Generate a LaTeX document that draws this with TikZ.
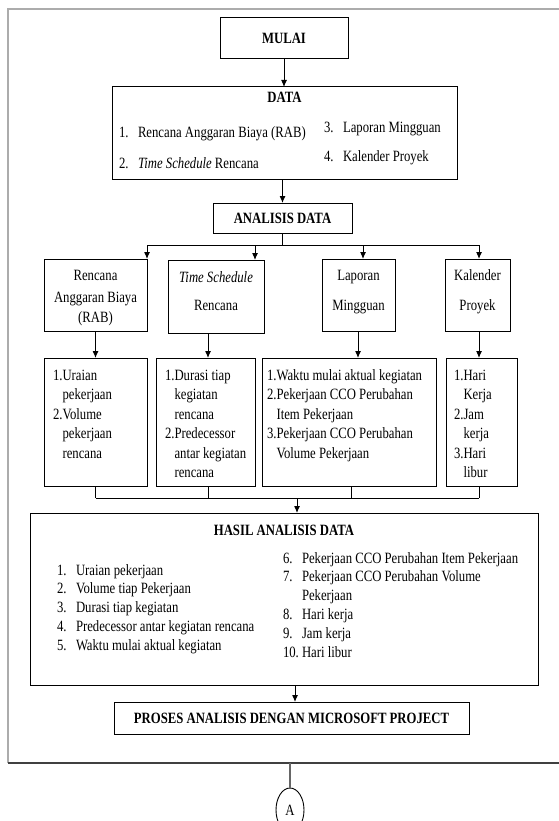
\documentclass[tikz,border=0pt]{standalone}
\usepackage{fontspec}
\setmainfont{Liberation Serif}[FakeStretch=0.81]
\usetikzlibrary{arrows.meta,shapes.geometric}
\tikzset{
  box/.style={draw=black, line width=1pt, anchor=north west, inner sep=0pt, outer sep=0pt},
  txt/.style={inner sep=0pt, outer sep=0pt, font=\fontsize{15.7}{19}\selectfont},
  ttl/.style={txt, font=\fontsize{15.7}{19}\selectfont\bfseries},
  arr/.style={line width=1pt, -{Latex[length=7pt,width=6pt]}},
  con/.style={line width=1pt},
}
\newcommand\bx[5]{\node[box, minimum width={#4-#2}, minimum height={#5-#3}] (#1) at (#2,#3) {};}
\newcommand\putline[4]{\node[txt, anchor=base west] (#1) at (#2,#3) {#4};}
\newcommand\putc[4]{\node[txt, anchor=base] (#1) at (#2,#3) {#4};}
\begin{document}
\begin{tikzpicture}[x=1pt,y=-1pt]
\useasboundingbox (0,0) rectangle (558,821);
\fill[white] (0,0) rectangle (558,821);
% outer frame
\draw[gray!65, line width=1.3pt] (562,9) -| (8,763);
\draw[black!75, line width=1.5pt] (8,763) -- (562,763);
% boxes
\bx{mulai}{220}{18}{348}{59}
\bx{data}{112}{87}{457}{180}
\bx{ana}{213}{203}{352}{233}
\bx{b1}{44}{259}{147}{331}
\bx{b2}{168}{260}{264}{333}
\bx{b3}{322}{259}{395}{331}
\bx{b4}{445}{259}{510}{331}
\bx{l1}{44}{358}{147}{486}
\bx{l2}{156}{358}{255}{486}
\bx{l3}{262}{358}{436}{486}
\bx{l4}{446}{358}{517}{486}
\bx{hasil}{30}{513}{538}{685}
\bx{proses}{114}{702}{469}{734}
% titles
\node[ttl] (tmulai) at (mulai.center) {MULAI};
\node[ttl] (tdata) at (284.5,97) {DATA};
\node[ttl] (tana) at (ana.center) {ANALISIS DATA};
\node[ttl] (thasil) at (284,530) {HASIL ANALISIS DATA};
\node[ttl] (tproses) at (proses.center) {PROSES ANALISIS DENGAN MICROSOFT PROJECT};
% DATA items
\putline{d1}{119}{138}{\makebox[19pt][l]{1.}Rencana Anggaran Biaya (RAB)}
\putline{d2}{119}{168}{\makebox[19pt][l]{2.}\textit{Time Schedule} Rencana}
\putline{d3}{324}{133}{\makebox[19pt][l]{3.}Laporan Mingguan}
\putline{d4}{324}{162}{\makebox[19pt][l]{4.}Kalender Proyek}
% row 2 texts
\putc{b1a}{95.5}{280}{Rencana}
\putc{b1b}{95.5}{302}{Anggaran Biaya}
\putc{b1c}{95.5}{322}{(RAB)}
\putc{b2a}{216}{282}{\textit{Time Schedule}}
\putc{b2b}{216}{310}{Rencana}
\putc{b3a}{358.5}{280}{Laporan}
\putc{b3b}{358.5}{310}{Mingguan}
\putc{b4a}{477.5}{280}{Kalender}
\putc{b4b}{477.5}{310}{Proyek}
% row 3 texts
\putline{l1a}{53}{380}{1.Uraian}
\putline{l1b}{53}{399.5}{\phantom{1.}pekerjaan}
\putline{l1c}{53}{419}{2.Volume}
\putline{l1d}{53}{438.5}{\phantom{2.}pekerjaan}
\putline{l1e}{53}{458}{\phantom{2.}rencana}
\putline{l2a}{165}{380}{1.Durasi tiap}
\putline{l2b}{165}{399.5}{\phantom{1.}kegiatan}
\putline{l2c}{165}{419}{\phantom{1.}rencana}
\putline{l2d}{165}{438.5}{2.Predecessor}
\putline{l2e}{165}{458}{\phantom{2.}antar kegiatan}
\putline{l2f}{165}{477.5}{\phantom{2.}rencana}
\putline{l3a}{267}{380}{1.Waktu mulai aktual kegiatan}
\putline{l3b}{267}{399.5}{2.Pekerjaan CCO Perubahan}
\putline{l3c}{267}{419}{\phantom{2.}Item Pekerjaan}
\putline{l3d}{267}{438.5}{3.Pekerjaan CCO Perubahan}
\putline{l3e}{267}{458}{\phantom{3.}Volume Pekerjaan}
\putline{l4a}{454}{380}{1.Hari}
\putline{l4b}{454}{399.5}{\phantom{1.}Kerja}
\putline{l4c}{454}{419}{2.Jam}
\putline{l4d}{454}{438.5}{\phantom{2.}kerja}
\putline{l4e}{454}{458}{3.Hari}
\putline{l4f}{454}{477.5}{\phantom{3.}libur}
% HASIL items
\putline{h1}{57}{575}{\makebox[19pt][l]{1.}Uraian pekerjaan}
\putline{h2}{57}{593.75}{\makebox[19pt][l]{2.}Volume tiap Pekerjaan}
\putline{h3}{57}{612.5}{\makebox[19pt][l]{3.}Durasi tiap kegiatan}
\putline{h4}{57}{631.25}{\makebox[19pt][l]{4.}Predecessor antar kegiatan rencana}
\putline{h5}{57}{650}{\makebox[19pt][l]{5.}Waktu mulai aktual kegiatan}
\putline{h6}{283}{563}{\makebox[19pt][l]{6.}Pekerjaan CCO Perubahan Item Pekerjaan}
\putline{h7}{283}{581.8}{\makebox[19pt][l]{7.}Pekerjaan CCO Perubahan Volume}
\putline{h7b}{283}{600.6}{\makebox[19pt][l]{}Pekerjaan}
\putline{h8}{283}{619.4}{\makebox[19pt][l]{8.}Hari kerja}
\putline{h9}{283}{638.2}{\makebox[19pt][l]{9.}Jam kerja}
\putline{h10}{283}{657}{\makebox[19pt][l]{10.}Hari libur}
% connectors
\draw[arr] (mulai.south) -- (mulai.south |- data.north);
\draw[arr] (ana.north |- data.south) -- (ana.north);
\coordinate (c1) at (147,245);
\coordinate (c2) at (255,245);
\coordinate (c3) at (363,245);
\coordinate (c4) at (479,245);
\draw[con] (ana.south) -- (ana.south |- c1);
\draw[con] (c1) -- (c4);
\draw[arr] (c1) -- (c1 |- b1.north);
\draw[arr] (c2) -- (c2 |- b2.north);
\draw[arr] (c3) -- (c3 |- b3.north);
\draw[arr] (c4) -- (c4 |- b4.north);
\coordinate (d2x) at (208,0);
\coordinate (d3x) at (358,0);
\coordinate (d4x) at (479,0);
\draw[arr] (b1.south) -- (l1.north);
\draw[arr] (b2.south -| d2x) -- (l2.north -| d2x);
\draw[arr] (b3.south -| d3x) -- (l3.north -| d3x);
\draw[arr] (b4.south -| d4x) -- (l4.north -| d4x);
\coordinate (e1) at (95.5,498);
\coordinate (e2) at (208,498);
\coordinate (e3) at (351,498);
\coordinate (e4) at (479,498);
\coordinate (e0) at (297,498);
\draw[con] (l1.south) -- (e1);
\draw[con] (l2.south -| e2) -- (e2);
\draw[con] (l3.south -| e3) -- (e3);
\draw[con] (l4.south -| e4) -- (e4);
\draw[con] (e1) -- (e4);
\draw[arr] (e0) -- (e0 |- hasil.north);
\coordinate (f0) at (295,0);
\draw[arr] (hasil.south -| f0) -- (proses.north -| f0);
% off-page connector
\coordinate (fb) at (290,763);
\node[draw, ellipse, line width=0.9pt, minimum width=28pt, minimum height=44pt, inner sep=0pt, font=\fontsize{15.7}{19}\selectfont] (A) at (290,810) {A};
\draw[gray!80!black, line width=1.2pt] (fb) -- (A.north);
\end{tikzpicture}
\end{document}
